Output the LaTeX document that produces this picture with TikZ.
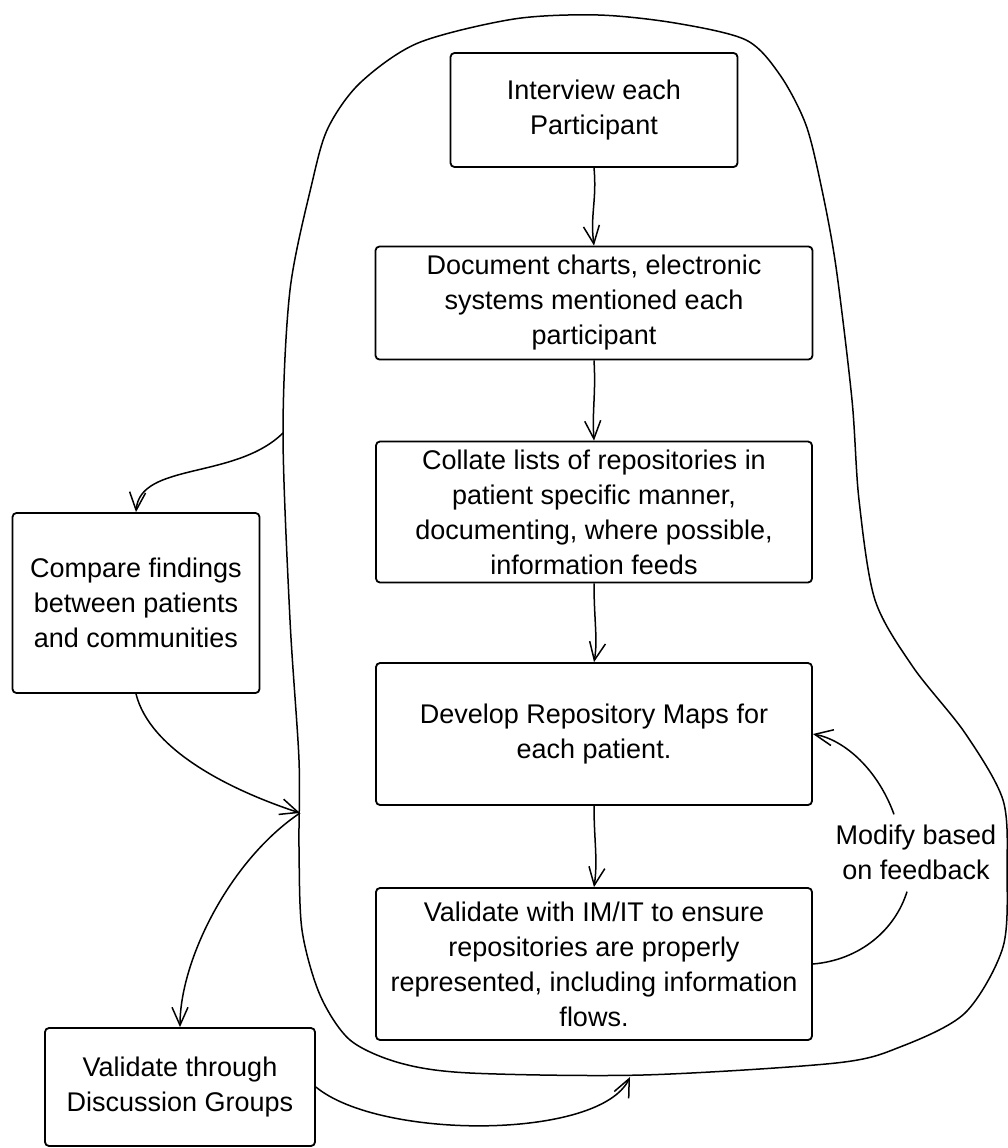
\documentclass[tikz,border=0pt]{standalone}
\usepackage{fontspec}
\setmainfont{Liberation Sans}
\usetikzlibrary{arrows.meta,calc}
\begin{document}
\begin{tikzpicture}[x=1pt,y=-1pt,
  stepbox/.style={draw,line width=1.8pt,rounded corners=4pt,align=center,
    inner sep=0pt,font=\fontsize{27}{35}\selectfont},
  note/.style={align=center,inner sep=4pt,font=\fontsize{27}{35}\selectfont},
  flow/.style={line width=1.5pt,-{Straight Barb[length=18pt,width=16pt]}}]
  \useasboundingbox (0,0) rectangle (1008,1148);
  % Outline round the mapping steps
  \draw[line width=1.5pt] plot[smooth cycle,tension=0.5] coordinates {
    (598,15) (675,23) (746,40) (780,75) (806,125) (822,190) (836,267)
    (852,400) (859,500) (875,600) (913,667) (965,733) (1003,800) (1007,870)
    (1003,947) (965,1013) (900,1047) (836,1063) (643,1075) (470,1073)
    (400,1063) (350,1040) (320,995) (302,930) (299,847) (299,760)
    (290,620) (283,433) (290,290) (312,183) (328,128) (360,83) (418,43) (514,19)};
  \coordinate (leave) at (283,433);
  \coordinate (back) at (300,813);
  \coordinate (bottom) at (630,1077);
  % Steps inside the outline
  \node[stepbox,minimum width=287,minimum height=114] (interview) at (594,110)
    {Interview each\\Participant};
  \node[stepbox,minimum width=437,minimum height=113] (document) at (594,303)
    {Document charts, electronic\\systems mentioned each\\participant};
  \node[stepbox,minimum width=436,minimum height=141] (collate) at (594,512)
    {Collate lists of repositories in\\patient specific manner,\\documenting, where possible,\\information feeds};
  \node[stepbox,minimum width=436,minimum height=142] (develop) at (594,734)
    {Develop Repository Maps for\\each patient.};
  \node[stepbox,minimum width=436,minimum height=152] (validate) at (594,964)
    {Validate with IM/IT to ensure\\repositories are properly\\represented, including information\\flows.};
  % Steps outside
  \node[stepbox,minimum width=247,minimum height=180] (compare) at (136,603)
    {Compare findings\\between patients\\and communities};
  \node[stepbox,minimum width=270,minimum height=118] (groups) at (180,1087)
    {Validate through\\Discussion Groups};
  \node[note] (modify) at (916,852) {Modify based\\on feedback};
  % Arrows down the steps
  \draw[flow] (interview.south) .. controls (597,200) and (590,215) .. (document.north);
  \draw[flow] (document.south) .. controls (596,395) and (592,410) .. (collate.north);
  \draw[flow] (collate.south) .. controls (594,620) and (598,640) .. (develop.north);
  \draw[flow] (develop.south) .. controls (594,840) and (598,860) .. (validate.north);
  % Feedback loop
  \draw[line width=1.5pt] (validate.east) .. controls (860,960) and (895,930)
    .. ($(modify.south)+(-9,8)$);
  \draw[flow] ($(modify.north)+(-22,-6)$) .. controls (878,770) and (845,740)
    .. (develop.east);
  % Arrows outside
  \draw[flow] (leave) .. controls (235,480) and (140,462) .. (compare.north);
  \draw[flow] (compare.south) .. controls (150,750) and (230,790) .. (back);
  \draw[flow] (back) .. controls (230,860) and (180,960) .. (groups.north);
  \draw[flow] (groups.east) .. controls (380,1140) and (600,1140) .. (bottom);
\end{tikzpicture}
\end{document}
